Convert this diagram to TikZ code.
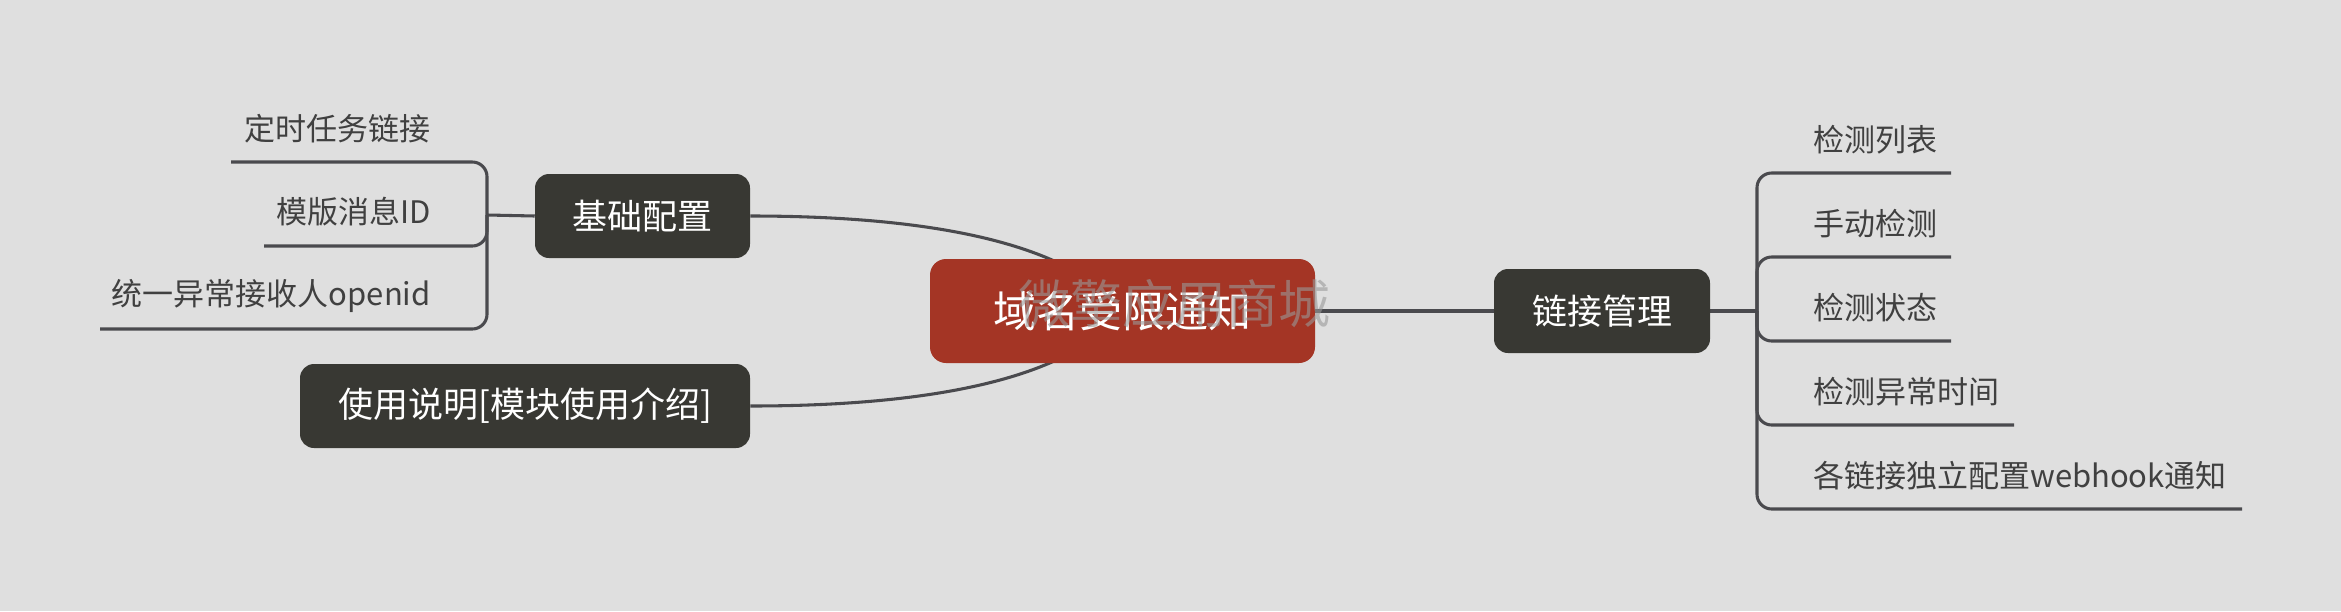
\documentclass[tikz,border=0pt]{standalone}
\usepackage{fontspec}
\newfontfamily\cjk{Noto Sans CJK SC}
\definecolor{bgc}{HTML}{DFDFDF}
\definecolor{darkbox}{HTML}{383833}
\definecolor{redbox}{HTML}{A43525}
\definecolor{linec}{HTML}{4A4A4E}
\definecolor{leaftext}{HTML}{404040}
\definecolor{wmc}{HTML}{999999}
\pgfdeclarelayer{bglayer}
\pgfdeclarelayer{background}
\pgfsetlayers{bglayer,background,main}
\begin{document}
\begin{tikzpicture}[x=0.75pt,y=-0.75pt,
  topic/.style={fill=darkbox, rounded corners=10.5pt, text=white, inner sep=0pt,
    font=\cjk\fontsize{26.25pt}{30pt}\selectfont, minimum height=63pt},
  maintopic/.style={fill=redbox, rounded corners=12pt, text=white, inner sep=0pt,
    font=\cjk\fontsize{32.25pt}{36pt}\selectfont, minimum height=78pt, minimum width=288.75pt},
  leaf/.style={text=leaftext, inner sep=0pt, font=\cjk\fontsize{23.25pt}{28pt}\selectfont},
  conn/.style={draw=linec, line width=2.3pt},
  branch/.style={conn, rounded corners=11pt}
]
\begin{pgfonlayer}{bglayer}
\fill[bgc] (0,0) rectangle (2341,611);
\end{pgfonlayer}
\useasboundingbox (0,0) rectangle (2341,611);

% central topic
\node[maintopic] (main) at (1122.5,311) {域名受限通知};

% main branches
\node[topic, minimum width=161.25pt] (kb) at (642.5,216) {基础配置};
\node[topic, minimum width=337.5pt] (sy) at (525,406) {使用说明[模块使用介绍]};
\node[topic, minimum width=162pt] (lk) at (1602,311) {链接管理};

% left leaves
\node[leaf, anchor=east] (l1) at (431,129) {定时任务链接};
\node[leaf, anchor=east] (l2) at (431,212) {模版消息ID};
\node[leaf, anchor=east] (l3) at (431,296) {统一异常接收人openid};

% right leaves
\node[leaf, anchor=west] (r1) at (1813,140) {检测列表};
\node[leaf, anchor=west] (r2) at (1813,223.5) {手动检测};
\node[leaf, anchor=west] (r3) at (1813,308) {检测状态};
\node[leaf, anchor=west] (r4) at (1813,391.5) {检测异常时间};
\node[leaf, anchor=west] (r5) at (1813,476) {各链接独立配置webhook通知};

% junctions and underline ends
\coordinate (jl) at (487,215);
\coordinate (jr) at (1757,311);
\coordinate (u1) at (231,162);
\coordinate (u2) at (264,246);
\coordinate (u3) at (100,329);
\coordinate (v1) at (1951,173);
\coordinate (v2) at (1951,257);
\coordinate (v3) at (1951,341);
\coordinate (v4) at (2014,425);
\coordinate (v5) at (2242,509);

\begin{pgfonlayer}{background}
\draw[conn] (kb.east) .. controls (950,216) and (1075,249) .. (main.center);
\draw[conn] (sy.east) .. controls (950,406) and (1075,373) .. (main.center);
\draw[conn] (main.east) -- (lk.west);
\draw[conn] (kb.west) -- (jl);
\draw[branch] (jl) |- (u1);
\draw[branch] (jl) |- (u2);
\draw[branch] (jl) |- (u3);
\draw[conn] (lk.east) -- (jr);
\draw[branch] (jr) |- (v1);
\draw[branch] (jr) |- (v2);
\draw[branch] (jr) |- (v3);
\draw[branch] (jr) |- (v4);
\draw[branch] (jr) |- (v5);
\end{pgfonlayer}

% watermark
\node[text=wmc, opacity=0.6, inner sep=0pt, font=\cjk\fontsize{39pt}{44pt}\selectfont] (wm) at (1174,304) {微擎应用商城};
\end{tikzpicture}
\end{document}
